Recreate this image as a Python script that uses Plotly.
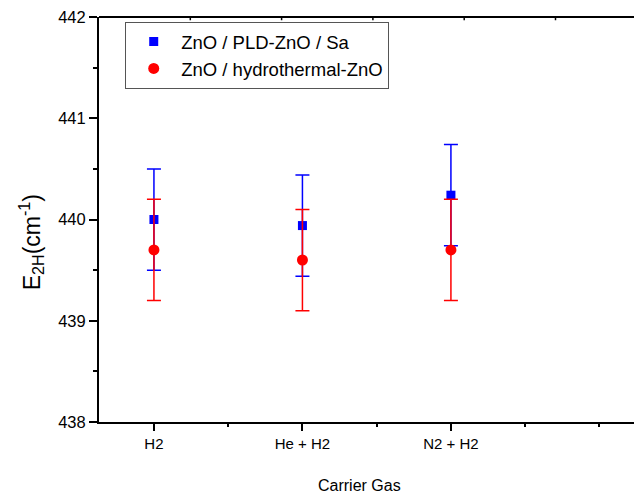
import plotly.graph_objects as go

categories = ["H2", "He + H2", "N2 + H2"]
pld_values = [440.0, 439.94, 440.24]
pld_errors = [0.5, 0.5, 0.5]
hydro_values = [439.70, 439.60, 439.70]
hydro_errors = [0.5, 0.5, 0.5]

xpos = list(range(len(categories)))

fig = go.Figure()
fig.add_trace(go.Scatter(
    x=xpos, y=pld_values, mode="markers", name="ZnO / PLD-ZnO / Sa",
    marker=dict(symbol="square", size=9, color="#0000ff"),
    error_y=dict(type="data", array=pld_errors, color="#0000ff", thickness=1.5, width=7),
))
fig.add_trace(go.Scatter(
    x=xpos, y=hydro_values, mode="markers", name="ZnO / hydrothermal-ZnO",
    marker=dict(symbol="circle", size=11, color="#ff0000"),
    error_y=dict(type="data", array=hydro_errors, color="#ff0000", thickness=1.5, width=7),
))

font_family = "Liberation Sans, Arial, sans-serif"
# page body has an 8px margin, so the figure is a bit smaller than the window
fig.update_layout(
    width=626, height=488,
    margin=dict(l=91, r=0, t=9, b=74),
    plot_bgcolor="white", paper_bgcolor="white",
    font=dict(family=font_family, size=16, color="black"),
    showlegend=True,
    legend=dict(x=0.049, y=0.988, xanchor="left", yanchor="top",
                bordercolor="#555555", borderwidth=1, bgcolor="white",
                font=dict(size=18.5), itemwidth=45, tracegroupgap=0),
    xaxis=dict(
        range=[-0.37, 3.233], tickvals=xpos, ticktext=categories,
        showline=True, linecolor="black", linewidth=2, showgrid=False, zeroline=False,
        ticks="outside", ticklen=7, tickwidth=1.5, tickcolor="black",
        minor=dict(dtick=0.5, ticks="outside", ticklen=3, tickwidth=1.5, tickcolor="black"),
        tickfont=dict(size=15),
    ),
    yaxis=dict(
        range=[438, 442], dtick=1,
        showline=True, linecolor="black", linewidth=2, showgrid=False, zeroline=False,
        ticks="outside", ticklen=8, tickwidth=1.5, tickcolor="black",
        minor=dict(dtick=0.5, ticks="outside", ticklen=4, tickwidth=1.5, tickcolor="black"),
        tickfont=dict(size=16.5), ticklabeloverflow="allow",
    ),
)

# axis titles as annotations so they sit where the original has them
fig.add_annotation(text="Carrier Gas", xref="paper", yref="paper", x=0.486, y=-0.183,
                   showarrow=False, font=dict(size=16), xanchor="center", yanchor="bottom")
fig.add_annotation(text="E<sub>2H</sub>(cm<sup>-1</sup>)", xref="paper", yref="paper",
                   x=-0.127, y=0.444, textangle=-90, showarrow=False,
                   font=dict(size=23), xanchor="center", yanchor="middle")

# top frame line with its small ticks
fig.add_shape(type="line", xref="paper", yref="paper", x0=0, x1=1, y0=1, y1=1,
              line=dict(color="black", width=2))
top_step = 91.3 / 535
for k in range(1, 6):
    fig.add_shape(type="line", xref="paper", yref="paper", x0=k * top_step, x1=k * top_step,
                  y0=1, y1=0.992, line=dict(color="black", width=1.5))

fig.write_html("out.html")
